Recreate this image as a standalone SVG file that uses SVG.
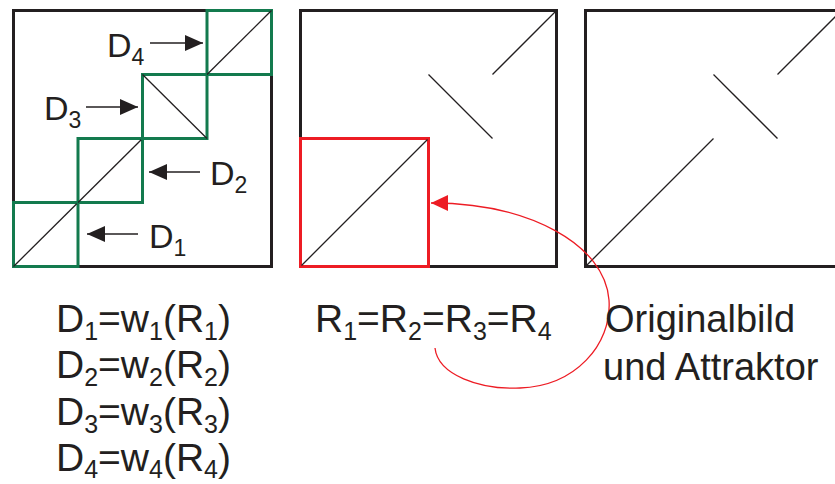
<svg xmlns="http://www.w3.org/2000/svg" width="835" height="484" viewBox="0 0 835 484">
<style>
  .frame{fill:none;stroke:#231f20;stroke-width:3}
  .green{fill:none;stroke:#137a4e;stroke-width:3}
  .red{fill:none;stroke:#ed1c24;stroke-width:3}
  .diag{fill:none;stroke:#231f20;stroke-width:1.3}
  .arr{fill:none;stroke:#231f20;stroke-width:1.4;marker-end:url(#ah)}
  .rarr{fill:none;stroke:#ed1c24;stroke-width:1.3;marker-end:url(#rh)}
  text{font-family:"Liberation Sans",Arial,sans-serif;fill:#231f20}
  .big{font-size:39px}
  .cap{font-size:38px}
  .lab{font-size:34px}
  .sub{font-size:25px}
  .lsub{font-size:23px}
</style>
<defs>
  <marker id="ah" markerUnits="userSpaceOnUse" markerWidth="18" markerHeight="16" refX="18" refY="8" orient="auto">
    <path d="M0,0 L18,8 L0,16 z" fill="#231f20"/>
  </marker>
  <marker id="rh" markerUnits="userSpaceOnUse" markerWidth="17" markerHeight="16" refX="17" refY="8" orient="auto">
    <path d="M0,0 L17,8 L0,16 z" fill="#ed1c24"/>
  </marker>
</defs>
<rect width="835" height="484" fill="#ffffff"/>

<g id="panel1">
  <rect class="frame" x="13.5" y="10.5" width="258" height="256"/>
  <g id="D1"><rect class="green" x="13.5" y="202.5" width="64.5" height="64"/><line class="diag" x1="13.5" y1="266.5" x2="78" y2="202.5"/></g>
  <g id="D2"><rect class="green" x="78" y="138.5" width="64.5" height="64"/><line class="diag" x1="78" y1="202.5" x2="142.5" y2="138.5"/></g>
  <g id="D3"><rect class="green" x="142.5" y="74.5" width="64.5" height="64"/><line class="diag" x1="142.5" y1="74.5" x2="207" y2="138.5"/></g>
  <g id="D4"><rect class="green" x="207" y="10.5" width="64.5" height="64"/><line class="diag" x1="207" y1="74.5" x2="271.5" y2="10.5"/></g>
  <text class="lab" x="107" y="57">D<tspan class="lsub" dy="8">4</tspan></text>
  <text class="lab" x="44" y="120">D<tspan class="lsub" dy="8">3</tspan></text>
  <text class="lab" x="210" y="185">D<tspan class="lsub" dy="8">2</tspan></text>
  <text class="lab" x="149" y="248">D<tspan class="lsub" dy="8">1</tspan></text>
</g>

<g id="panel2">
  <rect class="frame" x="300.5" y="10.5" width="256" height="256"/>
  <line class="diag" x1="428.5" y1="74.5" x2="492.5" y2="138.5"/>
  <line class="diag" x1="492.5" y1="74.5" x2="555" y2="12"/>
  <g id="R">
    <rect class="red" x="300.5" y="138.5" width="128" height="128"/>
    <line class="diag" x1="301.5" y1="265.5" x2="427.5" y2="139.5"/>
  </g>
</g>

<g id="panel3">
  <rect class="frame" x="585.5" y="10.5" width="256" height="256"/>
  <line class="diag" x1="586.5" y1="265.5" x2="713.5" y2="138.5"/>
  <line class="diag" x1="713.5" y1="74.5" x2="777.5" y2="138.5"/>
  <line class="diag" x1="777.5" y1="74.5" x2="841.5" y2="10.5"/>
</g>

<g id="connectors">
  <path class="arr" d="M150,43 L203,43"/>
  <path class="arr" d="M86,107 L138,107"/>
  <path class="arr" d="M200,172 L149,172"/>
  <path class="arr" d="M138,234 L87,234"/>
  <path class="rarr" d="M435,348 C438,375 480,390 520,388 C575,386 612,345 609,300 C605,245 530,203 431,203"/>
</g>

<g id="formulas">
  <text class="big" x="56" y="332">D<tspan class="sub" dy="8">1</tspan><tspan dy="-8">=w</tspan><tspan class="sub" dy="8">1</tspan><tspan dy="-8">(R</tspan><tspan class="sub" dy="8">1</tspan><tspan dy="-8">)</tspan></text>
  <text class="big" x="56" y="378.3">D<tspan class="sub" dy="8">2</tspan><tspan dy="-8">=w</tspan><tspan class="sub" dy="8">2</tspan><tspan dy="-8">(R</tspan><tspan class="sub" dy="8">2</tspan><tspan dy="-8">)</tspan></text>
  <text class="big" x="56" y="424.7">D<tspan class="sub" dy="8">3</tspan><tspan dy="-8">=w</tspan><tspan class="sub" dy="8">3</tspan><tspan dy="-8">(R</tspan><tspan class="sub" dy="8">3</tspan><tspan dy="-8">)</tspan></text>
  <text class="big" x="56" y="471">D<tspan class="sub" dy="7">4</tspan><tspan dy="-7">=w</tspan><tspan class="sub" dy="7">4</tspan><tspan dy="-7">(R</tspan><tspan class="sub" dy="7">4</tspan><tspan dy="-7">)</tspan></text>
</g>
<g id="ranges">
  <text class="big" x="315" y="332">R<tspan class="sub" dy="8">1</tspan><tspan dy="-8">=R</tspan><tspan class="sub" dy="8">2</tspan><tspan dy="-8">=R</tspan><tspan class="sub" dy="8">3</tspan><tspan dy="-8">=R</tspan><tspan class="sub" dy="8">4</tspan></text>
</g>
<g id="caption">
  <text class="cap" x="605" y="332">Originalbild</text>
  <text class="cap" x="603" y="380">und Attraktor</text>
</g>
</svg>
